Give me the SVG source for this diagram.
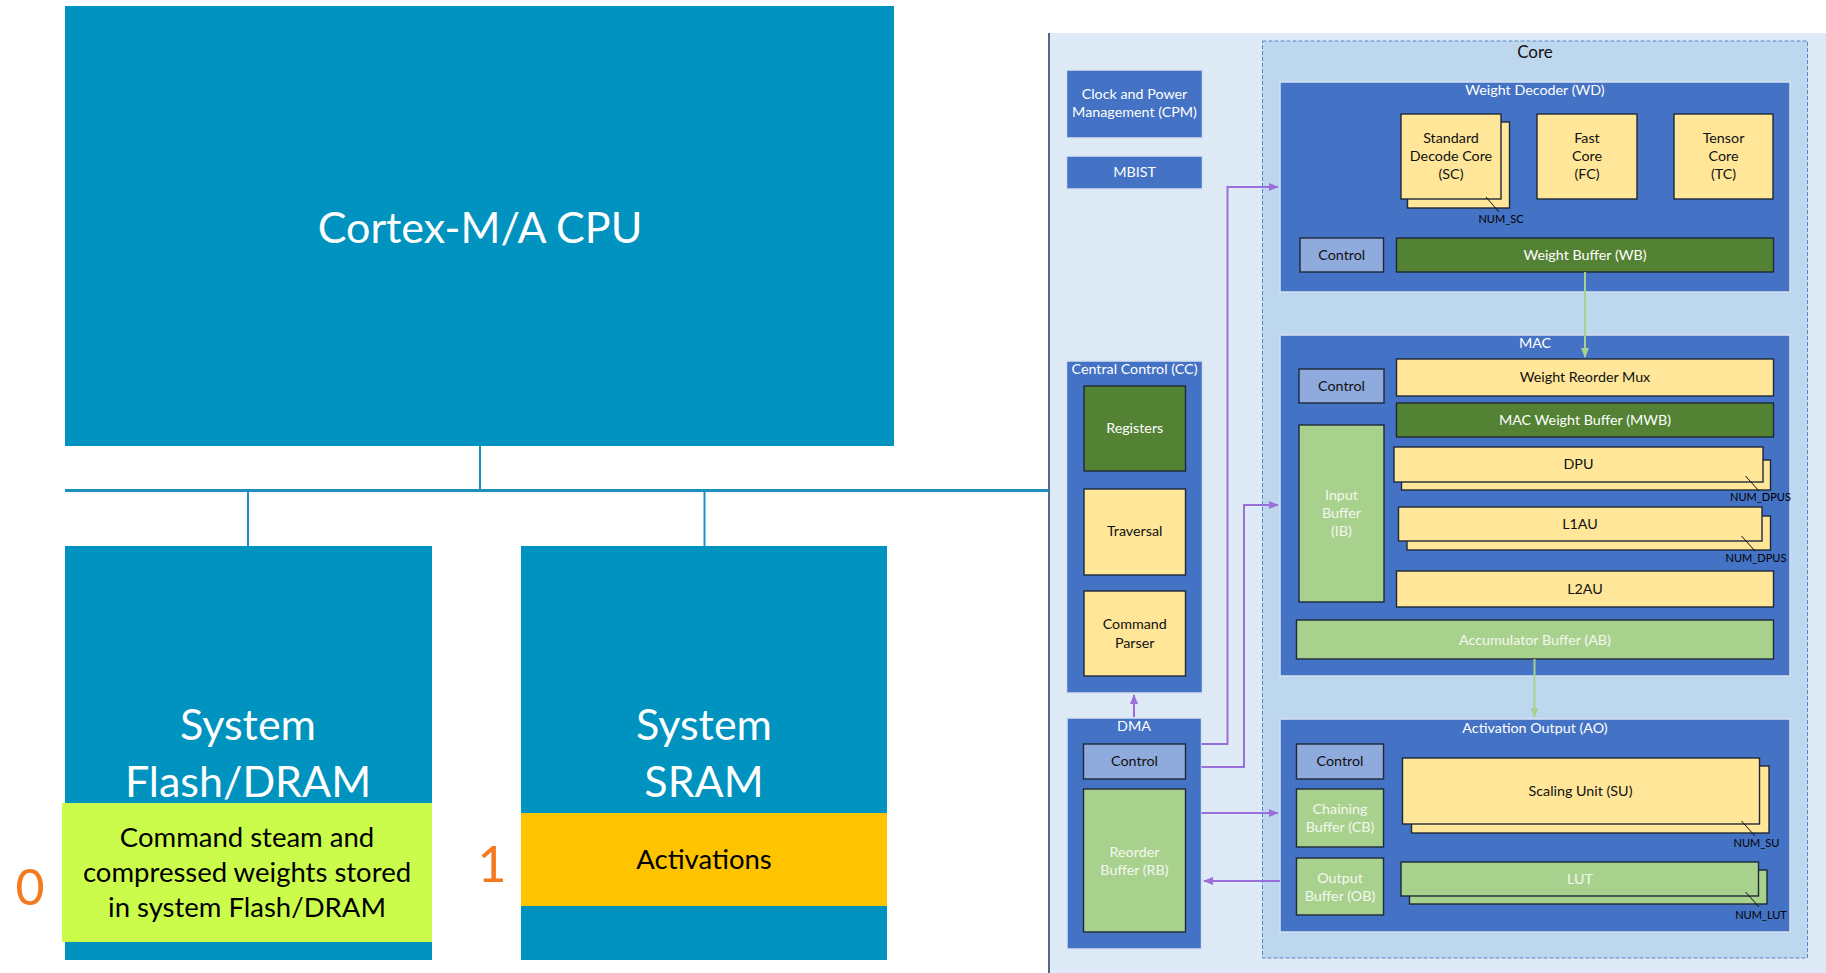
<svg xmlns="http://www.w3.org/2000/svg" width="1826" height="973" viewBox="0 0 1826 973">
<style>
text{font-family:Lato,"Liberation Sans",sans-serif;text-anchor:middle}
.big{font-size:43px;fill:#fff}
.mid{font-size:27.5px;fill:#000}
.num{font-size:50px;fill:#F47A20}
.s{font-size:14.3px}
.xs{font-size:11px;fill:#000}
.w{fill:#fff}
.k{fill:#111}
.lg{fill:#F3F8EE}
.sys{fill:#0093BF}
.grp{fill:#4472C4;stroke:#D5E1F2;stroke-width:1.5}
.ctl{fill:#8FAADC;stroke:#1E2838;stroke-width:1.4}
.yel{fill:#FFE699;stroke:#1E2838;stroke-width:1.4}
.dg{fill:#548235;stroke:#1E2838;stroke-width:1.4}
.lgr{fill:#A9D18E;stroke:#1E2838;stroke-width:1.4}
.bus{stroke:#1C8EBF;fill:none}
.pc{stroke:#9B6FD9;stroke-width:2;fill:none}
.gc{stroke:#A9D18E;stroke-width:2;fill:none}
.ld{stroke:#111;stroke-width:1;fill:none}
</style>
<defs>
<marker id="ap" markerWidth="10" markerHeight="10" refX="9" refY="5" orient="auto" markerUnits="userSpaceOnUse"><path d="M0,1 L10,5 L0,9 Z" fill="#9B6FD9"/></marker>
<marker id="ag" markerWidth="10" markerHeight="10" refX="9" refY="5" orient="auto" markerUnits="userSpaceOnUse"><path d="M0,1 L10,5 L0,9 Z" fill="#A9D18E"/></marker>
</defs>
<rect width="1826" height="973" fill="#fff"/>

<!-- right panel background -->
<rect x="1049" y="33" width="777" height="940" fill="#DEEAF6"/>
<line x1="1049" y1="33" x2="1049" y2="973" stroke="#203864" stroke-width="1.5"/>

<!-- bus -->
<g id="bus">
<line class="bus" x1="65" y1="490.5" x2="1049" y2="490.5" stroke-width="3"/>
<line class="bus" x1="480" y1="446" x2="480" y2="492" stroke-width="2"/>
<line class="bus" x1="248" y1="492" x2="248" y2="546" stroke-width="2"/>
<line class="bus" x1="704.5" y1="492" x2="704.5" y2="546" stroke-width="2"/>
</g>

<g id="cpu">
<rect class="sys" x="65" y="6" width="829" height="440"/>
<text class="big" x="480" y="243">Cortex-M/A CPU</text>
</g>

<g id="flash">
<rect class="sys" x="65" y="546" width="367" height="414"/>
<text class="big" x="248" y="740">System</text>
<text class="big" x="248" y="797">Flash/DRAM</text>
<rect x="62" y="803" width="370" height="139" fill="#CBFC4B"/>
<text class="mid" x="247" y="847">Command steam and</text>
<text class="mid" x="247" y="882">compressed weights stored</text>
<text class="mid" x="247" y="917">in system Flash/DRAM</text>
</g>
<text id="label0" class="num" x="30" y="905">0</text>

<g id="sram">
<rect class="sys" x="521" y="546" width="366" height="414"/>
<text class="big" x="704" y="740">System</text>
<text class="big" x="704" y="797">SRAM</text>
<rect x="521" y="813" width="366" height="93" fill="#FFC400"/>
<text class="mid" x="704" y="869">Activations</text>
</g>
<text id="label1" class="num" x="492" y="882">1</text>

<!-- Core -->
<g id="core">
<rect x="1262.5" y="41" width="545" height="917" fill="#BDD7EE" stroke="#5B86CC" stroke-width="1" stroke-dasharray="4,2"/>
<text class="s k" x="1535" y="58" style="font-size:17px">Core</text>
</g>

<g id="cpm">
<rect class="grp" x="1066.5" y="70" width="136" height="68"/>
<text class="s w" x="1134.5" y="99">Clock and Power</text>
<text class="s w" x="1134.5" y="117">Management (CPM)</text>
</g>
<g id="mbist">
<rect class="grp" x="1066.5" y="156" width="136" height="33"/>
<text class="s w" x="1134.5" y="177">MBIST</text>
</g>

<!-- Weight decoder -->
<g id="wd">
<rect class="grp" x="1280" y="82" width="510" height="210"/>
<text class="s w" x="1535" y="95">Weight Decoder (WD)</text>
</g>
<g id="sc">
<rect class="yel" x="1407.5" y="122" width="102" height="86"/>
<rect class="yel" x="1401" y="114" width="100" height="85"/>
<text class="s k" x="1451" y="143">Standard</text>
<text class="s k" x="1451" y="161">Decode Core</text>
<text class="s k" x="1451" y="179">(SC)</text>
<line class="ld" x1="1486" y1="197" x2="1499" y2="212"/>
<text class="xs" x="1501" y="223">NUM_SC</text>
</g>
<g id="fc">
<rect class="yel" x="1537" y="114" width="100" height="85"/>
<text class="s k" x="1587" y="143">Fast</text>
<text class="s k" x="1587" y="161">Core</text>
<text class="s k" x="1587" y="179">(FC)</text>
</g>
<g id="tc">
<rect class="yel" x="1674" y="114" width="99" height="85"/>
<text class="s k" x="1723.5" y="143">Tensor</text>
<text class="s k" x="1723.5" y="161">Core</text>
<text class="s k" x="1723.5" y="179">(TC)</text>
</g>
<g id="wd-control">
<rect class="ctl" x="1300" y="238" width="83.5" height="34"/>
<text class="s k" x="1341.7" y="260">Control</text>
</g>
<g id="wb">
<rect class="dg" x="1396.5" y="238" width="377" height="34"/>
<text class="s w" x="1585" y="260">Weight Buffer (WB)</text>
</g>

<!-- MAC -->
<g id="mac">
<rect class="grp" x="1280" y="335" width="510" height="341"/>
<text class="s w" x="1535" y="348">MAC</text>
</g>
<g id="mac-control">
<rect class="ctl" x="1299" y="369" width="85" height="34"/>
<text class="s k" x="1341.5" y="391">Control</text>
</g>
<g id="wrm">
<rect class="yel" x="1396.5" y="359" width="377" height="37"/>
<text class="s k" x="1585" y="382">Weight Reorder Mux</text>
</g>
<g id="mwb">
<rect class="dg" x="1396.5" y="403" width="377" height="34"/>
<text class="s w" x="1585" y="425">MAC Weight Buffer (MWB)</text>
</g>
<g id="dpu">
<rect class="yel" x="1401.5" y="460" width="369" height="30"/>
<rect class="yel" x="1394" y="447" width="369" height="35"/>
<text class="s k" x="1578.5" y="469">DPU</text>
<line class="ld" x1="1745.5" y1="476" x2="1759" y2="491"/>
<text class="xs" x="1760.5" y="501">NUM_DPUS</text>
</g>
<g id="l1au">
<rect class="yel" x="1407" y="516" width="363.5" height="34"/>
<rect class="yel" x="1398.5" y="507" width="363.5" height="34"/>
<text class="s k" x="1580" y="529">L1AU</text>
<line class="ld" x1="1741.5" y1="536" x2="1755" y2="551"/>
<text class="xs" x="1756" y="562">NUM_DPUS</text>
</g>
<g id="l2au">
<rect class="yel" x="1396.5" y="571" width="377" height="36"/>
<text class="s k" x="1585" y="594">L2AU</text>
</g>
<g id="ib">
<rect class="lgr" x="1299" y="425" width="85" height="177"/>
<text class="s lg" x="1341.5" y="500">Input</text>
<text class="s lg" x="1341.5" y="518">Buffer</text>
<text class="s lg" x="1341.5" y="536">(IB)</text>
</g>
<g id="ab">
<rect class="lgr" x="1296.5" y="620" width="477" height="39"/>
<text class="s lg" x="1535" y="645">Accumulator Buffer (AB)</text>
</g>

<!-- Central control -->
<g id="cc">
<rect class="grp" x="1066.5" y="361" width="136" height="332"/>
<text class="s w" x="1134.5" y="374">Central Control (CC)</text>
</g>
<g id="registers">
<rect class="dg" x="1084" y="386" width="101.5" height="85"/>
<text class="s w" x="1134.7" y="433">Registers</text>
</g>
<g id="traversal">
<rect class="yel" x="1084" y="489" width="101.5" height="86"/>
<text class="s k" x="1134.7" y="536">Traversal</text>
</g>
<g id="cmdparser">
<rect class="yel" x="1084" y="591" width="101.5" height="85"/>
<text class="s k" x="1134.7" y="629">Command</text>
<text class="s k" x="1134.7" y="648">Parser</text>
</g>

<!-- DMA -->
<g id="dma">
<rect class="grp" x="1067" y="718" width="134.5" height="231"/>
<text class="s w" x="1134" y="731">DMA</text>
</g>
<g id="dma-control">
<rect class="ctl" x="1083.5" y="744" width="102" height="35"/>
<text class="s k" x="1134.5" y="766">Control</text>
</g>
<g id="rb">
<rect class="lgr" x="1083.5" y="789" width="102" height="143"/>
<text class="s lg" x="1134.5" y="857">Reorder</text>
<text class="s lg" x="1134.5" y="875">Buffer (RB)</text>
</g>

<!-- Activation output -->
<g id="ao">
<rect class="grp" x="1280" y="719" width="510" height="213"/>
<text class="s w" x="1535" y="733">Activation Output (AO)</text>
</g>
<g id="ao-control">
<rect class="ctl" x="1296.5" y="744" width="87" height="35"/>
<text class="s k" x="1340" y="766">Control</text>
</g>
<g id="cb">
<rect class="lgr" x="1296.5" y="789" width="87" height="58"/>
<text class="s lg" x="1340" y="814">Chaining</text>
<text class="s lg" x="1340" y="832">Buffer (CB)</text>
</g>
<g id="ob">
<rect class="lgr" x="1296.5" y="858" width="87" height="57"/>
<text class="s lg" x="1340" y="883">Output</text>
<text class="s lg" x="1340" y="901">Buffer (OB)</text>
</g>
<g id="su">
<rect class="yel" x="1411.5" y="766" width="357.5" height="67"/>
<rect class="yel" x="1402.5" y="758" width="357" height="66"/>
<text class="s k" x="1580.5" y="796">Scaling Unit (SU)</text>
<line class="ld" x1="1741.5" y1="821" x2="1755" y2="836"/>
<text class="xs" x="1756.5" y="847">NUM_SU</text>
</g>
<g id="lut">
<rect class="lgr" x="1409.5" y="870" width="357.5" height="34"/>
<rect class="lgr" x="1401" y="862" width="357.5" height="34"/>
<text class="s lg" x="1580" y="884">LUT</text>
<line class="ld" x1="1745.5" y1="892" x2="1759" y2="907"/>
<text class="xs" x="1761" y="919">NUM_LUT</text>
</g>

<!-- connectors -->
<g id="connectors">
<path class="pc" d="M1201.5,744 H1227.5 V187 H1278" marker-end="url(#ap)"/>
<path class="pc" d="M1201.5,767 H1244 V505 H1278" marker-end="url(#ap)"/>
<path class="pc" d="M1201.5,813 H1278" marker-end="url(#ap)"/>
<path class="pc" d="M1280,881 H1204" marker-end="url(#ap)"/>
<path class="pc" d="M1134,717 V695" marker-end="url(#ap)"/>
<path class="gc" d="M1585,272 V357" marker-end="url(#ag)"/>
<path class="gc" d="M1534.5,659 V717" marker-end="url(#ag)"/>
</g>
</svg>
